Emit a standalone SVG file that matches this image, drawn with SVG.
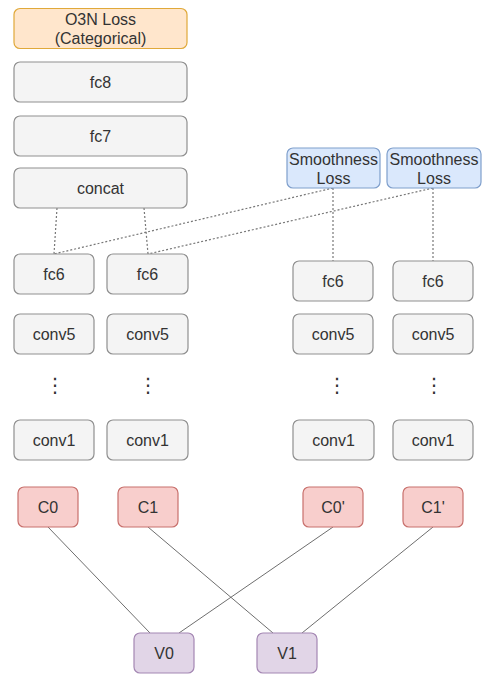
<svg xmlns="http://www.w3.org/2000/svg" width="492" height="689" viewBox="0 0 492 689">
<style>
rect{stroke-width:1.2}
.g{fill:#f4f4f4;stroke:#8f8f8f}
.o{fill:#ffe6cc;stroke:#e0a93a}
.b{fill:#dae8fc;stroke:#7f9fcc}
.r{fill:#f8cecc;stroke:#c8706c}
.p{fill:#e1d5e7;stroke:#a487b3}
text{font-family:"Liberation Sans",Arial,sans-serif;font-size:16px;fill:#333;text-anchor:middle}
.d{font-family:"DejaVu Sans",sans-serif;font-size:20px}
.c line{stroke:#6e6e6e;stroke-width:1}
.c .dash{stroke:#777;stroke-width:1.2;stroke-dasharray:2 2}
</style>
<rect width="492" height="689" fill="#fff"/>
<g class="c" id="connectors">
<line class="dash" x1="57" y1="208" x2="54" y2="254"/>
<line class="dash" x1="144" y1="208" x2="148" y2="254"/>
<line class="dash" x1="333" y1="188" x2="54" y2="254"/>
<line class="dash" x1="433" y1="188" x2="148" y2="254"/>
<line class="dash" x1="333" y1="188" x2="333" y2="261"/>
<line class="dash" x1="433" y1="188" x2="433" y2="261"/>
<line x1="48" y1="527" x2="150" y2="633"/>
<line x1="148" y1="527" x2="273" y2="633"/>
<line x1="333" y1="527" x2="179" y2="633"/>
<line x1="433" y1="527" x2="302" y2="633"/>
</g>
<g id="o3n"><rect class="o" x="14" y="8.5" width="173" height="40" rx="6"/><text x="100.5" y="25">O3N Loss</text><text x="100.5" y="44">(Categorical)</text></g>
<g id="fc8"><rect class="g" x="14" y="62" width="173" height="40" rx="6"/><text x="100.5" y="87.5">fc8</text></g>
<g id="fc7"><rect class="g" x="14" y="116" width="173" height="40" rx="6"/><text x="100.5" y="141.5">fc7</text></g>
<g id="concat"><rect class="g" x="14" y="168" width="173" height="40" rx="6"/><text x="100.5" y="193.5">concat</text></g>
<g id="smooth1"><rect class="b" x="287" y="148" width="93" height="40" rx="6"/><text x="333.5" y="164.5">Smoothness</text><text x="333.5" y="183.5">Loss</text></g>
<g id="smooth2"><rect class="b" x="387" y="148" width="94" height="40" rx="6"/><text x="434" y="164.5">Smoothness</text><text x="434" y="183.5">Loss</text></g>
<g id="fc6a"><rect class="g" x="14" y="254" width="80" height="40" rx="6"/><text x="54" y="279.5">fc6</text></g>
<g id="fc6b"><rect class="g" x="107" y="254" width="81" height="40" rx="6"/><text x="147.5" y="279.5">fc6</text></g>
<g id="fc6c"><rect class="g" x="293" y="261" width="80" height="40" rx="6"/><text x="333" y="286.5">fc6</text></g>
<g id="fc6d"><rect class="g" x="393" y="261" width="80" height="40" rx="6"/><text x="433" y="286.5">fc6</text></g>
<g id="conv5a"><rect class="g" x="14" y="314" width="80" height="40" rx="6"/><text x="54" y="339.5">conv5</text></g>
<g id="conv5b"><rect class="g" x="107" y="314" width="81" height="40" rx="6"/><text x="147.5" y="339.5">conv5</text></g>
<g id="conv5c"><rect class="g" x="293" y="314" width="80" height="40" rx="6"/><text x="333" y="339.5">conv5</text></g>
<g id="conv5d"><rect class="g" x="393" y="314" width="80" height="40" rx="6"/><text x="433" y="339.5">conv5</text></g>
<g id="dotsa"><text class="d" x="55" y="392">⋮</text></g>
<g id="dotsb"><text class="d" x="148" y="392">⋮</text></g>
<g id="dotsc"><text class="d" x="337" y="392">⋮</text></g>
<g id="dotsd"><text class="d" x="434" y="392">⋮</text></g>
<g id="conv1a"><rect class="g" x="14" y="420" width="80" height="40" rx="6"/><text x="54" y="445.5">conv1</text></g>
<g id="conv1b"><rect class="g" x="107" y="420" width="81" height="40" rx="6"/><text x="147.5" y="445.5">conv1</text></g>
<g id="conv1c"><rect class="g" x="293" y="420" width="81" height="40" rx="6"/><text x="333.5" y="445.5">conv1</text></g>
<g id="conv1d"><rect class="g" x="393" y="420" width="80" height="40" rx="6"/><text x="433" y="445.5">conv1</text></g>
<g id="C0"><rect class="r" x="18" y="487" width="60" height="40" rx="6"/><text x="48" y="512.5">C0</text></g>
<g id="C1"><rect class="r" x="118" y="487" width="60" height="40" rx="6"/><text x="148" y="512.5">C1</text></g>
<g id="C0p"><rect class="r" x="303" y="487" width="60" height="40" rx="6"/><text x="333" y="512.5">C0'</text></g>
<g id="C1p"><rect class="r" x="403" y="487" width="60" height="40" rx="6"/><text x="433" y="512.5">C1'</text></g>
<g id="V0"><rect class="p" x="134" y="633" width="60" height="40" rx="6"/><text x="164" y="658.5">V0</text></g>
<g id="V1"><rect class="p" x="257" y="633" width="60" height="40" rx="6"/><text x="287" y="658.5">V1</text></g>
</svg>
